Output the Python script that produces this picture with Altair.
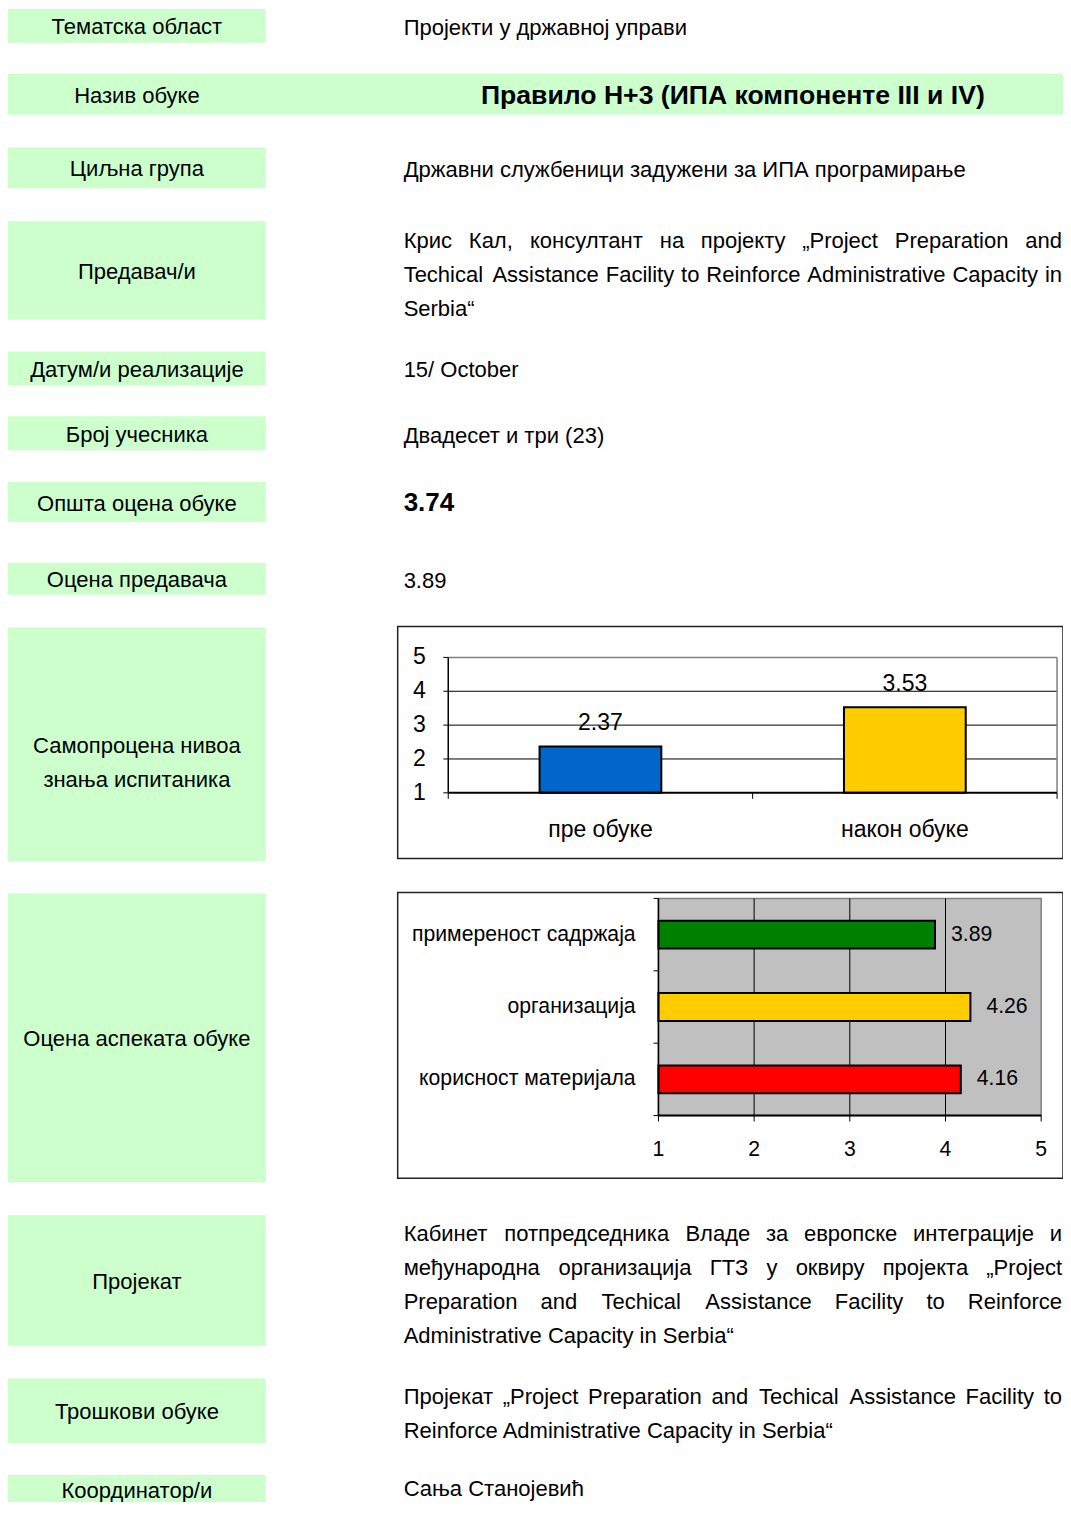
import altair as alt
import pandas as pd

# ---------------- data ----------------
field_labels = [
    "Тематска област",
    "Назив обуке",
    "Циљна група",
    "Предавач/и",
    "Датум/и реализације",
    "Број учесника",
    "Општа оцена обуке",
    "Оцена предавача",
    "Самопроцена нивоа\nзнања испитаника",
    "Оцена аспеката обуке",
    "Пројекат",
    "Трошкови обуке",
    "Координатор/и",
]
field_values = [
    ["Пројекти у државној управи"],
    [],
    ["Државни службеници задужени за ИПА програмирање"],
    ["Крис Кал, консултант на пројекту „Project Preparation and",
     "Techical Assistance Facility to Reinforce Administrative Capacity in",
     "Serbia“"],
    ["15/ October"],
    ["Двадесет и три (23)"],
    [],
    ["3.89"],
    [],
    [],
    ["Кабинет потпредседника Владе за европске интеграције и",
     "међународна организација ГТЗ у оквиру пројекта „Project",
     "Preparation and Techical Assistance Facility to Reinforce",
     "Administrative Capacity in Serbia“"],
    ["Пројекат „Project Preparation and Techical Assistance Facility to",
     "Reinforce Administrative Capacity in Serbia“"],
    ["Сања Станојевић"],
]
training_title = "Правило Н+3  (ИПА компоненте III и IV)"
overall_score = "3.74"

knowledge_categories = ["пре обуке", "након обуке"]
knowledge_scores = [2.37, 3.53]

aspect_categories = ["примереност садржаја", "организација", "корисност материјала"]
aspect_scores = [3.89, 4.26, 4.16]

score_ticks = [1, 2, 3, 4, 5]

# ---------------- layout & style ----------------
PAGE_W, PAGE_H = 1055, 1494
KX = 1055 / 1064.0   # maps reference x 5..1069 onto the drawable page
KY = 0.996
GREEN = "#CCFFCC"
BOX_X0, BOX_X1, TITLE_BOX_X1 = 5, 265, 1071
box_top = [9, 74, 148, 222, 353, 418, 484, 565, 630, 897, 1220, 1384, 1481]
box_bottom = [43, 115, 189, 321, 387, 452, 524, 597, 865, 1187, 1351, 1449, 1509]
LABEL_CX = 135
LABEL_DY = 1.5
TEXT_X0, TEXT_X1 = 404, 1068
LINE_H = 34
value_first_y = [28, None, 171, 242, 371, 438, None, 583, None, None, 1239, 1403, 1495]
justify = [
    [False], [], [False], [True, True, False], [False], [False], [], [False], [], [],
    [True, True, True, False], [True, False], [False],
]
TITLE_CX, TITLE_Y = 736, 96
SCORE_Y = 505

FONT = "Liberation Sans, Arial, sans-serif"
TEXT_SIZE = 22
LABEL_SIZE = 22
TITLE_SIZE = 26.6
SCORE_SIZE = 26

# chart 1 frame / plot
C1_FRAME = (398, 629, 1069, 862)
C1_X0, C1_X1, C1_Y1, C1_Y5 = 449, 1063, 796, 660
C1_CAT_Y = 833
C1_TICK_X = 420
C1_FONT_SIZE = 23
c1_colors = ["#0066CC", "#FFCC00"]
# chart 2 frame / plot
C2_FRAME = (398, 896, 1069, 1183)
C2_X1, C2_X5, C2_Y0, C2_Y1 = 661, 1047, 902, 1120
C2_TICK_Y = 1155
C2_CAT_X = 638
C2_FONT_SIZE = 21.2
c2_colors = ["#008000", "#FFCC00", "#FF0000"]


def PX(v):
    return (v - 5) * KX


def PY(v):
    return (v - 8) * KY


# approximate Arial advance widths (1/1000 em) for justification
ARIAL_W = {}
for chars, w in [
    ("abdeghnopqu0123456789аеорђћ", 556), ("ckvsxyzсух", 500), ("ft .,/", 278),
    ("ijlј", 222), ("r()„“", 333), ("mM", 833), ("wCDHNRUСН", 722),
    ("ABEKPSVXYАВЕРХ", 667), ("FTZТ", 611), ("GOQО", 778), ("I", 278),
    ("б", 573), ("в", 531), ("г", 365), ("д", 583), ("ж", 669), ("з", 458), ("и", 559),
    ("к", 438), ("л", 583), ("м", 688), ("н", 552), ("п", 542), ("т", 458), ("ф", 823),
    ("ц", 560), ("ч", 510), ("ш", 835), ("љ", 865), ("њ", 823), ("џ", 552),
    ("Б", 656), ("Г", 542), ("Д", 677), ("З", 604), ("И", 719), ("Л", 656), ("П", 719),
    ("У", 635), ("Ц", 740), ("Ч", 667), ("Ш", 917), ("Ј", 500), ("К", 583), ("М", 833),
    ("+", 584),
]:
    for ch in chars:
        ARIAL_W[ch] = w


def est_width(s):
    return sum(ARIAL_W.get(ch, 556) for ch in s) / 1000 * TEXT_SIZE


# ---------------- build text pieces ----------------
pieces = []
L0, L1 = PX(TEXT_X0), PX(TEXT_X1)
for i, lines in enumerate(field_values):
    for j, line in enumerate(lines):
        y = PY(value_first_y[i] + j * LINE_H)
        if justify[i][j]:
            words = line.split(" ")
            widths = [est_width(w) for w in words]
            gap = (L1 - L0 - sum(widths)) / (len(words) - 1)
            cur = L0
            for k, (w, wd) in enumerate(zip(words, widths)):
                if k == 0:
                    pieces.append(dict(t=w, x=L0, y=y, a="left"))
                elif k == len(words) - 1:
                    pieces.append(dict(t=w, x=L1, y=y, a="right"))
                else:
                    pieces.append(dict(t=w, x=cur + wd / 2, y=y, a="center"))
                cur += wd + gap
        else:
            pieces.append(dict(t=line, x=L0, y=y, a="left"))
pieces_df = pd.DataFrame(pieces)

n = len(field_labels)
boxes_df = pd.DataFrame({
    "x0": [PX(BOX_X0)] * n,
    "x1": [PX(TITLE_BOX_X1) if i == 1 else PX(BOX_X1) for i in range(n)],
    "y0": [PY(t) for t in box_top],
    "y1": [PY(b + 10) if i == n - 1 else PY(b) for i, b in enumerate(box_bottom)],
})
labels_df = pd.DataFrame({
    "label": field_labels,
    "x": [PX(LABEL_CX)] * n,
    "y": [PY((t + b) / 2 + LABEL_DY) for t, b in zip(box_top, box_bottom)],
})

NOX = dict(scale=None, axis=None)

layers = []
layers.append(alt.Chart(boxes_df).mark_rect(color=GREEN).encode(
    x=alt.X("x0:Q", **NOX), x2="x1:Q", y=alt.Y("y0:Q", **NOX), y2="y1:Q"))
layers.append(alt.Chart(labels_df).mark_text(
    font=FONT, fontSize=LABEL_SIZE, align="center", baseline="middle",
    lineBreak="\n", lineHeight=34, color="black").encode(
    x=alt.X("x:Q", **NOX), y=alt.Y("y:Q", **NOX), text="label:N"))
for al in ["left", "center", "right"]:
    sub = pieces_df[pieces_df["a"] == al]
    if len(sub):
        layers.append(alt.Chart(sub).mark_text(
            font=FONT, fontSize=TEXT_SIZE, align=al, baseline="middle", color="black").encode(
            x=alt.X("x:Q", **NOX), y=alt.Y("y:Q", **NOX), text="t:N"))

title_df = pd.DataFrame({"t": [training_title], "x": [PX(TITLE_CX)], "y": [PY(TITLE_Y)]})
layers.append(alt.Chart(title_df).mark_text(
    font=FONT, fontSize=TITLE_SIZE, fontWeight="bold", align="center", baseline="middle",
    color="black").encode(
    x=alt.X("x:Q", **NOX), y=alt.Y("y:Q", **NOX), text="t:N"))
score_df = pd.DataFrame({"t": [overall_score], "x": [L0], "y": [PY(SCORE_Y)]})
layers.append(alt.Chart(score_df).mark_text(
    font=FONT, fontSize=SCORE_SIZE, fontWeight="bold", align="left", baseline="middle",
    color="black").encode(
    x=alt.X("x:Q", **NOX), y=alt.Y("y:Q", **NOX), text="t:N"))

ONE = pd.DataFrame({"k": [0]})


def frame(fr, fill=None, stroke="#222", sw=1.5):
    x0, y0, x1, y1 = fr
    kw = dict(stroke=stroke, strokeWidth=sw)
    if fill:
        kw["fill"] = fill
    else:
        kw["fillOpacity"] = 0
    return alt.Chart(ONE).mark_rect(**kw).encode(
        x=alt.value(PX(x0)), x2=alt.value(PX(x1)), y=alt.value(PY(y0)), y2=alt.value(PY(y1)))


def hrule(x0, x1, y, color="black", sw=1):
    return alt.Chart(ONE).mark_rule(color=color, strokeWidth=sw).encode(
        x=alt.value(PX(x0)), x2=alt.value(PX(x1)), y=alt.value(PY(y)))


def vrule(x, y0, y1, color="black", sw=1):
    return alt.Chart(ONE).mark_rule(color=color, strokeWidth=sw).encode(
        x=alt.value(PX(x)), y=alt.value(PY(y0)), y2=alt.value(PY(y1)))


# ---------------- chart 1: self-assessed knowledge ----------------
k_df = pd.DataFrame({"cat": knowledge_categories, "v": knowledge_scores})
t_df = pd.DataFrame({"t": score_ticks})
inner_ticks = t_df[(t_df.t > t_df.t.min()) & (t_df.t < t_df.t.max())]
top_tick = t_df[t_df.t == t_df.t.max()]


def y1s():
    return alt.Scale(domain=[1, 5], range=[PY(C1_Y1), PY(C1_Y5)], nice=False, zero=False)


def x1s():
    return alt.Scale(domain=knowledge_categories, range=[PX(C1_X0), PX(C1_X1)],
                     paddingInner=0.6, paddingOuter=0.3)


layers.append(frame(C1_FRAME))
layers.append(alt.Chart(inner_ticks).mark_rule(color="black", strokeWidth=1).encode(
    y=alt.Y("t:Q", scale=y1s(), axis=None), x=alt.value(PX(C1_X0)), x2=alt.value(PX(C1_X1))))
layers.append(alt.Chart(top_tick).mark_rule(color="#808080", strokeWidth=1.5).encode(
    y=alt.Y("t:Q", scale=y1s(), axis=None), x=alt.value(PX(C1_X0)), x2=alt.value(PX(C1_X1))))
layers.append(vrule(C1_X1, C1_Y5, C1_Y1, color="#808080", sw=1.5))
layers.append(alt.Chart(t_df).mark_rule(color="black", strokeWidth=1).encode(
    y=alt.Y("t:Q", scale=y1s(), axis=None), x=alt.value(PX(C1_X0 - 5)), x2=alt.value(PX(C1_X0))))
layers.append(alt.Chart(t_df).mark_text(font=FONT, fontSize=C1_FONT_SIZE, align="center",
                                        baseline="middle", color="black").encode(
    y=alt.Y("t:Q", scale=y1s(), axis=None), x=alt.value(PX(C1_TICK_X)), text="t:N"))
layers.append(alt.Chart(k_df).mark_bar(stroke="black", strokeWidth=2).encode(
    x=alt.X("cat:N", scale=x1s(), axis=None, sort=None),
    y=alt.Y("v:Q", scale=y1s(), axis=None), y2=alt.datum(1),
    color=alt.Color("cat:N", scale=alt.Scale(domain=knowledge_categories, range=c1_colors), legend=None)))
layers.append(alt.Chart(k_df).mark_text(font=FONT, fontSize=C1_FONT_SIZE, align="center",
                                        baseline="middle", dy=-23, color="black").encode(
    x=alt.X("cat:N", scale=x1s(), axis=None, sort=None),
    y=alt.Y("v:Q", scale=y1s(), axis=None), text=alt.Text("v:Q", format=".2f")))
layers.append(alt.Chart(k_df).mark_text(font=FONT, fontSize=C1_FONT_SIZE, align="center",
                                        baseline="middle", color="black").encode(
    x=alt.X("cat:N", scale=x1s(), axis=None, sort=None), y=alt.value(PY(C1_CAT_Y)), text="cat:N"))
layers.append(hrule(C1_X0, C1_X1, C1_Y1, sw=2))
layers.append(vrule(C1_X0, C1_Y5, C1_Y1, sw=1.5))
for xb in [C1_X0, (C1_X0 + C1_X1) / 2, C1_X1]:
    layers.append(vrule(xb, C1_Y1, C1_Y1 + 6, sw=1))

# ---------------- chart 2: aspects of training ----------------
a_df = pd.DataFrame({"cat": aspect_categories, "v": aspect_scores})


def x2s():
    return alt.Scale(domain=[1, 5], range=[PX(C2_X1), PX(C2_X5)], nice=False, zero=False)


def y2s():
    return alt.Scale(domain=aspect_categories, range=[PY(C2_Y0), PY(C2_Y1)],
                     paddingInner=0.615, paddingOuter=0.3075)


layers.append(frame(C2_FRAME))
layers.append(frame((C2_X1, C2_Y0, C2_X5, C2_Y1), fill="#C0C0C0", stroke="#808080", sw=1.5))
layers.append(alt.Chart(inner_ticks).mark_rule(color="black", strokeWidth=1).encode(
    x=alt.X("t:Q", scale=x2s(), axis=None), y=alt.value(PY(C2_Y0)), y2=alt.value(PY(C2_Y1))))
layers.append(alt.Chart(t_df).mark_rule(color="black", strokeWidth=1).encode(
    x=alt.X("t:Q", scale=x2s(), axis=None), y=alt.value(PY(C2_Y1)), y2=alt.value(PY(C2_Y1 + 6))))
layers.append(alt.Chart(t_df).mark_text(font=FONT, fontSize=C2_FONT_SIZE, align="center",
                                        baseline="middle", color="black").encode(
    x=alt.X("t:Q", scale=x2s(), axis=None), y=alt.value(PY(C2_TICK_Y)), text="t:N"))
layers.append(alt.Chart(a_df).mark_bar(stroke="black", strokeWidth=2).encode(
    y=alt.Y("cat:N", scale=y2s(), axis=None, sort=None),
    x=alt.X("v:Q", scale=x2s(), axis=None), x2=alt.datum(1),
    color=alt.Color("cat:N", scale=alt.Scale(domain=aspect_categories, range=c2_colors), legend=None)))
layers.append(alt.Chart(a_df).mark_text(font=FONT, fontSize=C2_FONT_SIZE, align="left",
                                        baseline="middle", dx=16, color="black").encode(
    y=alt.Y("cat:N", scale=y2s(), axis=None, sort=None),
    x=alt.X("v:Q", scale=x2s(), axis=None), text=alt.Text("v:Q", format=".2f")))
layers.append(alt.Chart(a_df).mark_text(font=FONT, fontSize=C2_FONT_SIZE, align="right",
                                        baseline="middle", color="black").encode(
    y=alt.Y("cat:N", scale=y2s(), axis=None, sort=None), x=alt.value(PX(C2_CAT_X)), text="cat:N"))
layers.append(hrule(C2_X1, C2_X5, C2_Y1, sw=2))
layers.append(vrule(C2_X1, C2_Y0, C2_Y1, sw=1.5))
step = (C2_Y1 - C2_Y0) / len(aspect_categories)
for k in range(len(aspect_categories) + 1):
    layers.append(hrule(C2_X1 - 5, C2_X1, C2_Y0 + k * step, sw=1))

chart = alt.layer(*layers).resolve_scale(
    x="independent", y="independent", color="independent"
).properties(
    width=PAGE_W, height=PAGE_H, padding=0,
    autosize=alt.AutoSizeParams(type="none"),
).configure_view(stroke=None)

chart.save("out.html", embed_options={"renderer": "svg", "actions": False})
